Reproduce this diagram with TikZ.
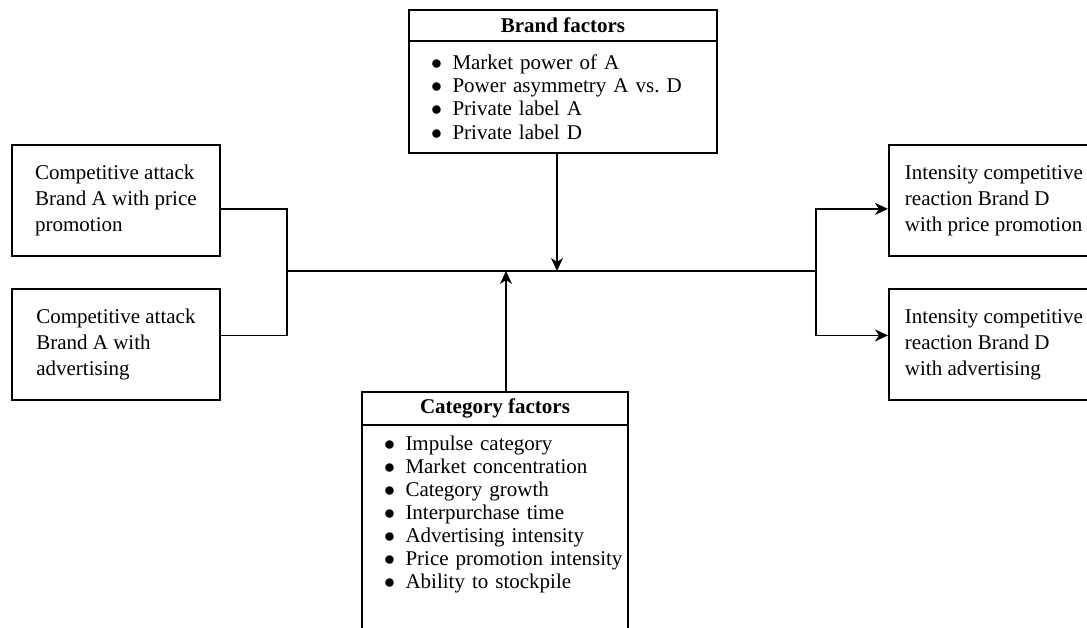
\documentclass[tikz,border=0pt]{standalone}
\usepackage{fontspec}
\setmainfont{Liberation Serif}
\usetikzlibrary{arrows.meta,positioning}

\newcommand{\factoritem}[1]{\hspace*{11pt}\makebox[10.75pt][l]{$\bullet$}#1}

\begin{document}
\begin{tikzpicture}[x=0.5pt,y=-0.5pt,line width=0.9pt,
  >={Stealth[length=6.5pt,width=6pt,inset=2pt]},
  font=\fontsize{10.5}{13}\selectfont,
  factortitle/.style={draw,anchor=north west,outer sep=0pt,font=\fontsize{10.5}{13}\selectfont\bfseries},
  factorlist/.style={draw,outer sep=0pt,inner xsep=0pt,align=left,font=\fontsize{10.5}{11.7}\selectfont\frenchspacing}]
\useasboundingbox (0,0) rectangle (1087,627);
\clip (0,0) rectangle (1087,627);

  \begin{scope}[every node/.style={draw,align=left,anchor=north west,minimum height=55.5pt}]
    \node [minimum width=104pt] at (11,144) (attackprice) {Competitive attack\\Brand A with price\\promotion};
    \node [minimum width=104pt] at (11,288) (attackadv) {Competitive attack\\Brand A with\\advertising};
    \node [minimum width=105pt] at (888,144) (reactprice) {Intensity competitive\\reaction Brand D\\with price promotion};
    \node [minimum width=105pt] at (888,288) (reactadv) {Intensity competitive\\reaction Brand D\\with advertising};
  \end{scope}

  % brand factors
  \node [factortitle,minimum width=154pt,minimum height=15.5pt] at (409,10) (brandtitle) {Brand factors};
  \node [factorlist,below=0pt of brandtitle,text width=154pt,minimum height=56pt] (brandlist)
    {\factoritem{Market power of A}\\\factoritem{Power asymmetry A vs. D}\\
     \factoritem{Private label A}\\\factoritem{Private label D}\\[-3pt]};

  % category factors
  \node [factortitle,minimum width=133pt,minimum height=16pt] at (362,392) (cattitle) {Category factors};
  \node [factorlist,below=0pt of cattitle,text width=133pt,inner ysep=5.5pt,text depth=105pt,
         font=\fontsize{10.5}{11.5}\selectfont] (catlist)
    {\factoritem{Impulse category}\\\factoritem{Market concentration}\\
     \factoritem{Category growth}\\\factoritem{Interpurchase time}\\
     \factoritem{Advertising intensity}\\\factoritem{Price promotion intensity}\\
     \factoritem{Ability to stockpile}};

  \coordinate (ljoin) at (287,271);
  \coordinate (rjoin) at (816,271);
  \coordinate (brandin) at ([xshift=-3pt]brandlist.south);
  \coordinate (catin) at ([xshift=5.5pt]cattitle.north);

  \draw ([yshift=-4.25pt]attackprice.east) -| (ljoin) |- ([yshift=4.5pt]attackadv.east);
  \draw (ljoin) -- (rjoin);
  \draw [->] (rjoin) |- ([yshift=-4.25pt]reactprice.west);
  \draw [->] (rjoin) |- ([yshift=4.5pt]reactadv.west);
  \draw [->] (brandin) -- (brandin |- ljoin);
  \draw [->] (catin) -- (catin |- ljoin);
\end{tikzpicture}
\end{document}
